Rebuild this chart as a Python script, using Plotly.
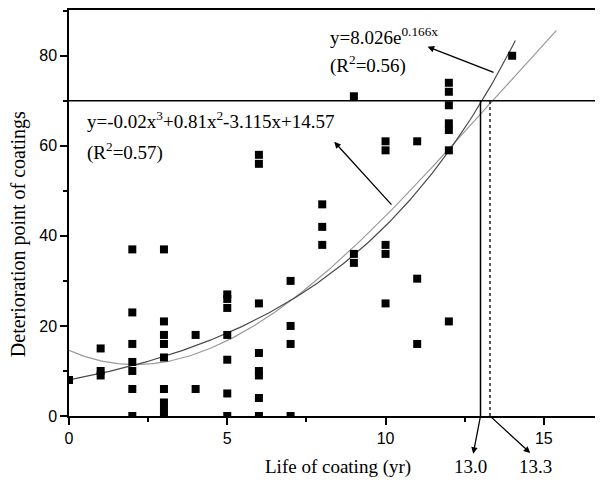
import numpy as np
import plotly.graph_objects as go

# Observed data: life of coating (yr) vs deterioration point
life_yr = [0,
           1, 1, 1,
           2, 2, 2, 2, 2, 2, 2,
           3, 3, 3, 3, 3, 3, 3, 3, 3,
           4, 4,
           5, 5, 5, 5, 5, 5, 5,
           6, 6, 6, 6, 6, 6, 6, 6,
           7, 7, 7, 7,
           8, 8, 8,
           9, 9, 9,
           10, 10, 10, 10, 10,
           11, 11, 11,
           12, 12, 12, 12, 12, 12, 12,
           14]
deterioration = [8,
                 15, 10, 9,
                 37, 23, 16, 12, 10, 6, 0,
                 37, 21, 18, 16, 13, 6, 3, 1.5, 0,
                 18, 6,
                 27, 26, 24, 18, 12.5, 5, 0,
                 58, 56, 25, 14, 10, 9, 4, 0,
                 30, 20, 16, 0,
                 47, 42, 38,
                 71, 36, 34,
                 61, 59, 38, 36, 25,
                 61, 30.5, 16,
                 74, 72, 69, 65, 63.5, 59, 21,
                 80]

# Fitted models shown on the chart
exp_coef = [8.026, 0.166]                  # y = a * exp(b x)
cubic_coef = [-0.02, 0.81, -3.115, 14.57]  # y = c3 x^3 + c2 x^2 + c1 x + c0
exp_xmax = 14.1
cubic_xmax = 15.4
threshold = 70
life_exp = 13.0
life_cubic = 13.3

x_tick_vals = [0, 5, 10, 15]
y_tick_vals = [0, 20, 40, 60, 80]

xe = np.linspace(0, exp_xmax, 200)
ye = exp_coef[0] * np.exp(exp_coef[1] * xe)
xc = np.linspace(0, cubic_xmax, 200)
yc = np.polyval(cubic_coef, xc)

XMAX = 16.87
YMAX = 90.16

# plot-area geometry in page pixels (page body has an 8px offset)
PL, PT, PW, PH = 69, 10, 534, 405.7


def px_to_paper(px, py):
    return (px - PL) / PW, (PT + PH - py) / PH


fig = go.Figure()
fig.add_trace(go.Scatter(x=xc, y=yc, mode="lines",
                         line=dict(color="#9a9a9a", width=1.2), showlegend=False))
fig.add_trace(go.Scatter(x=xe, y=ye, mode="lines",
                         line=dict(color="#4a4a4a", width=1.2), showlegend=False))
fig.add_trace(go.Scatter(x=life_yr, y=deterioration, mode="markers",
                         marker=dict(symbol="square", size=8, color="black"),
                         showlegend=False))

# threshold line and life lines
fig.add_shape(type="line", x0=0, x1=XMAX, y0=threshold, y1=threshold,
              line=dict(color="black", width=1.5), layer="above")
fig.add_shape(type="line", x0=life_exp, x1=life_exp, y0=0, y1=threshold,
              line=dict(color="black", width=1.5), layer="above")
fig.add_shape(type="line", x0=life_cubic, x1=life_cubic, y0=0, y1=threshold,
              line=dict(color="black", width=1.3, dash="dot"), layer="above")

serif = "Liberation Serif"
ann_font = dict(family=serif, size=19, color="black")

lab130 = px_to_paper(470, 466)
lab133 = px_to_paper(535, 466)
xt = px_to_paper(338, 467)
yt = px_to_paper(18, 234)

annotations = [
    dict(x=0.5, y=65.7, text="y=-0.02x<sup>3</sup>+0.81x<sup>2</sup>-3.115x+14.57",
         xanchor="left", yanchor="middle", showarrow=False, font=ann_font),
    dict(x=0.5, y=58.8, text="(R<sup>2</sup>=0.57)",
         xanchor="left", yanchor="middle", showarrow=False, font=ann_font),
    dict(x=8.18, y=84.3, text="y=8.026e<sup>0.166x</sup>",
         xanchor="left", yanchor="middle", showarrow=False, font=ann_font),
    dict(x=8.18, y=78.1, text="(R<sup>2</sup>=0.56)",
         xanchor="left", yanchor="middle", showarrow=False, font=ann_font),
    # arrows
    dict(x=11.33, y=82.0, ax=13.46, ay=76.2, axref="x", ayref="y", text="",
         showarrow=True, arrowhead=2, arrowsize=1, arrowwidth=1.3, arrowcolor="black"),
    dict(x=8.38, y=60.9, ax=10.23, ay=46.6, axref="x", ayref="y", text="",
         showarrow=True, arrowhead=2, arrowsize=1, arrowwidth=1.3, arrowcolor="black"),
    dict(x=12.77, y=-8.4, ax=life_exp, ay=0, axref="x", ayref="y", text="",
         showarrow=True, arrowhead=2, arrowsize=1, arrowwidth=1.3, arrowcolor="black"),
    dict(x=14.57, y=-8.2, ax=life_cubic, ay=0, axref="x", ayref="y", text="",
         showarrow=True, arrowhead=2, arrowsize=1, arrowwidth=1.3, arrowcolor="black"),
    dict(x=lab130[0], y=lab130[1], xref="paper", yref="paper", text="13.0",
         showarrow=False, font=ann_font, xanchor="center", yanchor="middle"),
    dict(x=lab133[0], y=lab133[1], xref="paper", yref="paper", text="13.3",
         showarrow=False, font=ann_font, xanchor="center", yanchor="middle"),
    # axis titles
    dict(x=xt[0], y=xt[1], xref="paper", yref="paper",
         text="Life of coating (yr)", showarrow=False, font=ann_font,
         xanchor="center", yanchor="middle"),
    dict(x=yt[0], y=yt[1], xref="paper", yref="paper",
         text="Deterioration point of coatings", showarrow=False,
         font=dict(family=serif, size=20, color="black"),
         textangle=-90, xanchor="center", yanchor="middle"),
]

fig.update_layout(
    width=603 - 8, height=484 - 8,
    margin=dict(l=PL - 8, r=0, t=PT - 8, b=484 - (PT + PH)),
    paper_bgcolor="white", plot_bgcolor="white",
    annotations=annotations,
    font=dict(family="Liberation Sans", size=16, color="black"),
)
fig.update_xaxes(range=[0, XMAX], showgrid=False, zeroline=False,
                 showline=True, linecolor="black", linewidth=1.5, mirror=True,
                 tickvals=x_tick_vals, ticks="outside", ticklen=7, tickwidth=1.5,
                 tickcolor="black",
                 minor=dict(dtick=2.5, tick0=0, ticks="outside", ticklen=4,
                            tickwidth=1.5, tickcolor="black"),
                 tickfont=dict(family="Liberation Sans", size=16))
fig.update_yaxes(range=[0, YMAX], showgrid=False, zeroline=False,
                 showline=True, linecolor="black", linewidth=1.5, mirror=False,
                 tickvals=y_tick_vals, ticks="outside", ticklen=7, tickwidth=1.5,
                 tickcolor="black",
                 minor=dict(dtick=10, tick0=0, ticks="outside", ticklen=4,
                            tickwidth=1.5, tickcolor="black"),
                 tickfont=dict(family="Liberation Sans", size=16))

fig.write_html("out.html")
